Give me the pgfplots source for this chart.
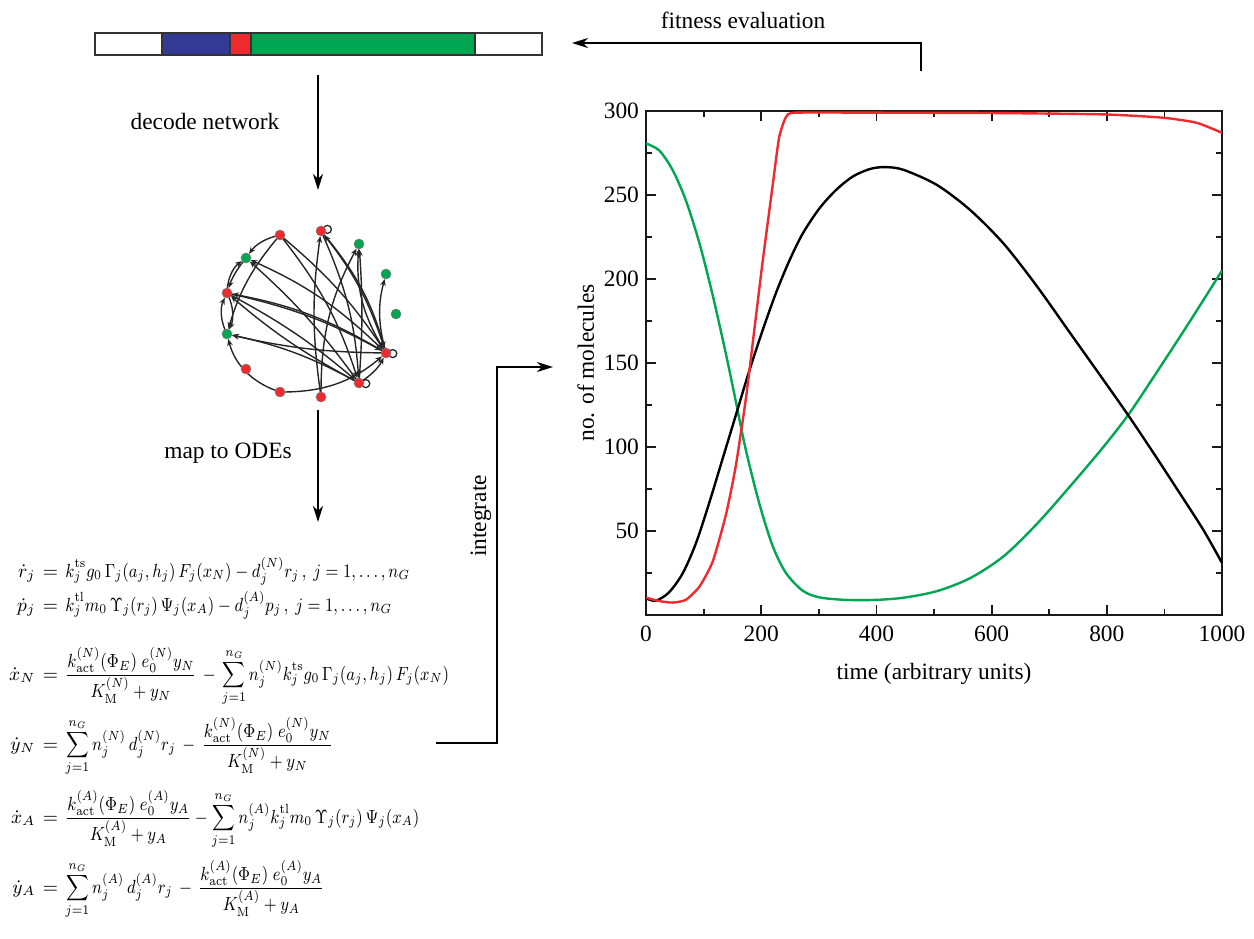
\RequirePackage{fix-cm}
\documentclass[border=0pt]{standalone}
\usepackage[no-math]{fontspec}
\setmainfont{Liberation Serif}
\usepackage{amsmath}
\usepackage{graphicx}
\usepackage{pgfplots}
\pgfplotsset{compat=1.18}
\usetikzlibrary{arrows.meta}
\definecolor{cgreen}{HTML}{00A651}
\definecolor{cred}{HTML}{EE2A2F}
\definecolor{cblue}{HTML}{323A96}
\newcommand{\lbl}{\fontsize{11.7}{14}\selectfont}
\newcommand{\eqf}{\fontsize{9.5}{11}\selectfont}
\newcommand{\eqline}[3]{%
  \node[anchor=base west, inner sep=0] at (0,#1) {\eqf\makebox[17.5pt][r]{$#2$}\makebox[15pt]{$=$}\scalebox{0.85}[1]{$\displaystyle #3$}};}
\begin{document}
\begin{tikzpicture}[x=0.5pt,y=-0.5pt, font=\lbl,
  bigarrow/.style={line width=1pt, -{Stealth[length=8pt,width=5pt,inset=2.5pt]}},
  edge/.style={line width=0.7pt, black!85, -{Stealth[length=3.4pt,width=2.8pt]}, shorten >=2.6pt, shorten <=1.5pt}]
\path[use as bounding box] (0,0) rectangle (1254,938);

% ---------------- genome bar ----------------
\coordinate (BAR) at (95,55);
\begin{axis}[at={(BAR)}, anchor=south west, scale only axis, width=223.5pt, height=11pt,
  xmin=0, xmax=447, ymin=-0.5, ymax=0.5, hide axis, xbar stacked, bar width=11pt, clip=false]
\addplot[fill=white, draw=black!80, line width=0.6pt] coordinates {(67,0)};
\addplot[fill=cblue, draw=black!80, line width=0.6pt] coordinates {(68,0)};
\addplot[fill=cred, draw=black!80, line width=0.6pt] coordinates {(21,0)};
\addplot[fill=cgreen, draw=black!80, line width=0.6pt] coordinates {(224,0)};
\addplot[fill=white, draw=black!80, line width=0.6pt] coordinates {(67,0)};
\end{axis}

% ---------------- arrows and labels ----------------
\draw[bigarrow] (318,75) -- (318,190);
\draw[bigarrow] (318,410) -- (318,522);
\draw[bigarrow] (921,71) -- (921,43) -- (572,43);
\draw[bigarrow] (436,743) -- (497,743) -- (497,367) -- (553,367);
\node at (743,20) {fitness evaluation};
\node at (205,121) {decode network};
\node at (228,453) {map to ODEs};
\node[rotate=90] at (481,516) {integrate};

% ---------------- network ----------------
\coordinate (NET) at (200,410);
\begin{axis}[at={(NET)}, anchor=south west, scale only axis, width=110pt, height=100pt,
  xmin=200, xmax=420, ymin=210, ymax=410, y dir=reverse, hide axis, clip=false]
\draw[edge] (axis cs:280,235) to[bend right=20] (axis cs:246,258);
\draw[edge] (axis cs:280,235) to[bend right=12] (axis cs:227,334);
\draw[edge] (axis cs:280,235) to[bend left=8] (axis cs:386,353);
\draw[edge] (axis cs:280,235) to[bend left=10] (axis cs:359,383);
\draw[edge] (axis cs:227,293) to[bend left=25] (axis cs:246,258);
\draw[edge] (axis cs:246,258) to[bend right=10] (axis cs:227,293);
\draw[edge] (axis cs:227,293) to[bend left=25] (axis cs:227,334);
\draw[edge] (axis cs:227,334) to[bend left=25] (axis cs:227,293);
\draw[edge] (axis cs:227,293) to[bend left=8] (axis cs:386,353);
\draw[edge] (axis cs:227,293) to[bend left=6] (axis cs:359,383);
\draw[edge] (axis cs:386,353) to[bend right=10] (axis cs:227,293);
\draw[edge] (axis cs:386,353) to[bend left=6] (axis cs:227,334);
\draw[edge] (axis cs:359,383) to[bend right=8] (axis cs:227,334);
\draw[edge] (axis cs:359,383) to[bend left=6] (axis cs:227,293);
\draw[edge] (axis cs:359,383) to[bend right=6] (axis cs:246,258);
\draw[edge] (axis cs:386,353) to[bend right=10] (axis cs:246,258);
\draw[edge] (axis cs:321,231) to[bend left=10] (axis cs:359,383);
\draw[edge] (axis cs:321,231) to[bend left=12] (axis cs:386,353);
\draw[edge] (axis cs:321,397) to[bend left=8] (axis cs:321,231);
\draw[edge] (axis cs:321,397) to[bend left=14] (axis cs:359,244);
\draw[edge] (axis cs:386,353) to[bend left=18] (axis cs:359,244);
\draw[edge] (axis cs:386,353) to[bend left=15] (axis cs:386,274);
\draw[edge] (axis cs:359,383) to[bend right=4] (axis cs:359,244);
\draw[edge] (axis cs:386,353) to[bend right=10] (axis cs:321,231);
\draw[edge] (axis cs:280,392) to[bend right=20] (axis cs:386,353);
\draw[edge] (axis cs:280,392) to[bend left=28] (axis cs:227,334);
\draw[edge] (axis cs:359,383) to[bend right=15] (axis cs:386,353);
\draw[line width=0.65pt, black!85] (axis cs:321,231) ++(3.2pt,0.8pt) circle (2pt);
\draw[line width=0.65pt, black!85] (axis cs:386,353) ++(3.4pt,-0.3pt) circle (2pt);
\draw[line width=0.65pt, black!85] (axis cs:359,383) ++(3.4pt,-0.3pt) circle (2pt);
\addplot[only marks, mark=*, mark size=2.5pt, mark options={fill=cred, draw=black!50, line width=0.3pt}]
  coordinates {(280,235) (321,231) (227,293) (386,353) (246,369) (359,383) (280,392) (321,397)};
\addplot[only marks, mark=*, mark size=2.5pt, mark options={fill=cgreen, draw=black!50, line width=0.3pt}]
  coordinates {(359,244) (246,258) (386,274) (396,314) (227,334)};
\end{axis}

% ---------------- equations ----------------
\eqline{577}{\dot r_j}{k_j^{\mathrm{ts}} g_0\,\Gamma_j(a_j,h_j)\,F_j(x_N)-d_j^{(N)} r_j\,,~j=1,\ldots,n_G}
\eqline{611}{\dot p_j}{k_j^{\mathrm{tl}} m_0\,\Upsilon_j(r_j)\,\Psi_j(x_A)-d_j^{(A)} p_j\,,~j=1,\ldots,n_G}
\eqline{680}{\dot x_N}{\frac{k_{\mathrm{act}}^{(N)}(\Phi_E)\;e_0^{(N)} y_N}{K_{\mathrm{M}}^{(N)}+y_N}\,-\,\sum_{j=1}^{n_G} n_j^{(N)} k_j^{\mathrm{ts}} g_0\,\Gamma_j(a_j,h_j)\,F_j(x_N)}
\eqline{750}{\dot y_N}{\sum_{j=1}^{n_G} n_j^{(N)}\,d_j^{(N)} r_j\,-\,\frac{k_{\mathrm{act}}^{(N)}(\Phi_E)\;e_0^{(N)} y_N}{K_{\mathrm{M}}^{(N)}+y_N}}
\eqline{823}{\dot x_A}{\frac{k_{\mathrm{act}}^{(A)}(\Phi_E)\;e_0^{(A)} y_A}{K_{\mathrm{M}}^{(A)}+y_A}-\sum_{j=1}^{n_G} n_j^{(A)} k_j^{\mathrm{tl}} m_0\,\Upsilon_j(r_j)\,\Psi_j(x_A)}
\eqline{893}{\dot y_A}{\sum_{j=1}^{n_G} n_j^{(A)}\,d_j^{(A)} r_j\,-\,\frac{k_{\mathrm{act}}^{(A)}(\Phi_E)\;e_0^{(A)} y_A}{K_{\mathrm{M}}^{(A)}+y_A}}

% ---------------- time course plot ----------------
\coordinate (PLOT) at (646,615);
\begin{axis}[at={(PLOT)}, anchor=south west, scale only axis, width=288pt, height=252pt,
  xmin=0, xmax=1000, ymin=0, ymax=300,
  xtick={0,200,...,1000}, minor xtick={100,300,...,900},
  ytick={50,100,...,300}, minor ytick={25,75,...,275},
  tick align=inside, major tick length=5pt, minor tick length=3pt,
  axis line style={line width=0.9pt, black!90},
  every tick/.style={line width=0.9pt, black!90},
  ticklabel style={font=\lbl},
  label style={font=\lbl},
  xticklabel style={yshift=-2pt},
  /pgf/number format/assume math mode=true,
  /pgf/number format/1000 sep={},
  xlabel={time (arbitrary units)}, ylabel={no. of molecules},
  xlabel style={yshift=-4pt}, ylabel style={yshift=-2pt}]
\addplot[cgreen, line width=1.2pt, smooth, tension=0.5] coordinates {
(0,280.7)(23,276.5)(46,265)(69,247)(93,221)(116,190)(139,155)(156,127)(173.5,98)(197,66)(220,41)(243,25)(272,14.5)(301,10.5)(347,9)(399,9)(447,10.3)(505,14.2)(563,22)(621,35)(678,54)(736,76.5)(794,100)(837,119)(880,141)(939,172)(1000,205)};
\addplot[black, line width=1.2pt, smooth, tension=0.5] coordinates {
(0,10)(17,8.5)(40,13.5)(64,25)(87,43)(110,67)(133,93)(156,119)(179,145)(202,169)(226,192)(249,211)(272,227)(301,242)(330,253)(359,261)(389,265.5)(415,266.6)(447,265)(505,256)(563,241)(621,221)(678,196)(736,168)(794,140)(837,119)(880,97)(920,76)(967,51)(1000,31)};
\addplot[cred, line width=1.2pt, smooth, tension=0.35] coordinates {
(0,10.3)(23,8.3)(46,7.4)(69,9)(93,17)(116,32)(139,60)(156,89)(173.5,129)(185,161)(202,209)(220,256)(231,284)(243,296.4)(260,299)(399,299)(600,298.8)(794,298)(898,296)(956,293)(1000,287)};
\end{axis}
\end{tikzpicture}
\end{document}
